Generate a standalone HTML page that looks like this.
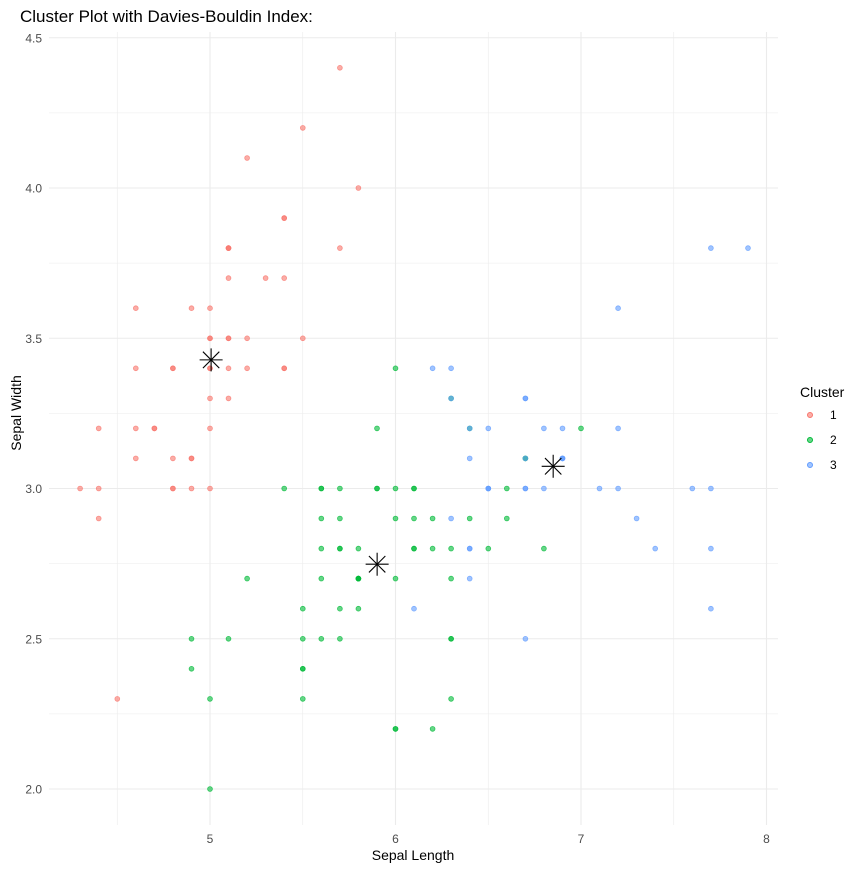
<!DOCTYPE html>
<html><head><meta charset="utf-8"><style>
body{margin:0;background:#fff;}
svg{display:block;font-family:"Liberation Sans",sans-serif;}
</style></head><body>
<svg id="s" width="862" height="870" xmlns="http://www.w3.org/2000/svg">
<rect width="862" height="870" fill="#fff"/>
<g id="grid"></g><g id="pts"></g><g id="stars"></g>
<text x="20" y="22" font-size="17" fill="#000">Cluster Plot with Davies-Bouldin Index:</text>
<text x="413" y="860" font-size="14" text-anchor="middle" fill="#000">Sepal Length</text>
<text transform="translate(21,413) rotate(-90)" font-size="14" text-anchor="middle" fill="#000">Sepal Width</text>
<text x="800" y="397" font-size="14" fill="#000">Cluster</text>
<circle cx="810" cy="415" r="2.5" fill="#F8766D" fill-opacity="0.6" stroke="#F8766D"/>
<circle cx="810" cy="440" r="2.5" fill="#00BA38" fill-opacity="0.6" stroke="#00BA38"/>
<circle cx="810" cy="465" r="2.5" fill="#619CFF" fill-opacity="0.6" stroke="#619CFF"/>
<text x="830" y="419" font-size="12" fill="#000">1</text>
<text x="830" y="444" font-size="12" fill="#000">2</text>
<text x="830" y="469" font-size="12" fill="#000">3</text>
</svg>
<script>
var X=function(v){return 210+(v-5)*185.5},Y=function(v){return 789-(v-2)*300.5};
var L=49,R=778,T=32,B=825,g='';
for(var v=4.5;v<=8.01;v+=0.5){var x=X(v);var maj=Math.abs(v-Math.round(v))<.01;g+='<line x1="'+x+'" x2="'+x+'" y1="'+T+'" y2="'+B+'" stroke="#ebebeb" stroke-width="'+(maj?1.1:0.6)+'"/>';if(maj)g+='<text x="'+x+'" y="'+(B+18)+'" font-size="12" fill="#4d4d4d" text-anchor="middle">'+v+'</text>';}
for(var v=2;v<=4.51;v+=0.25){var y=Y(v);var maj=Math.abs(v*2-Math.round(v*2))<.01;g+='<line x1="'+L+'" x2="'+R+'" y1="'+y+'" y2="'+y+'" stroke="#ebebeb" stroke-width="'+(maj?1.1:0.6)+'"/>';if(maj)g+='<text x="'+(L-7)+'" y="'+(y+4.5)+'" font-size="12" fill="#4d4d4d" text-anchor="end">'+v.toFixed(1)+'</text>';}
document.getElementById('grid').innerHTML=g;
var se=[5.1,3.5,4.9,3.0,4.7,3.2,4.6,3.1,5.0,3.6,5.4,3.9,4.6,3.4,5.0,3.4,4.4,2.9,4.9,3.1,5.4,3.7,4.8,3.4,4.8,3.0,4.3,3.0,5.8,4.0,5.7,4.4,5.4,3.9,5.1,3.5,5.7,3.8,5.1,3.8,5.4,3.4,5.1,3.7,4.6,3.6,5.1,3.3,4.8,3.4,5.0,3.0,5.0,3.4,5.2,3.5,5.2,3.4,4.7,3.2,4.8,3.1,5.4,3.4,5.2,4.1,5.5,4.2,4.9,3.1,5.0,3.2,5.5,3.5,4.9,3.6,4.4,3.0,5.1,3.4,5.0,3.5,4.5,2.3,4.4,3.2,5.0,3.5,5.1,3.8,4.8,3.0,5.1,3.8,4.6,3.2,5.3,3.7,5.0,3.3];
var ve=[7.0,3.2,6.4,3.2,6.9,3.1,5.5,2.3,6.5,2.8,5.7,2.8,6.3,3.3,4.9,2.4,6.6,2.9,5.2,2.7,5.0,2.0,5.9,3.0,6.0,2.2,6.1,2.9,5.6,2.9,6.7,3.1,5.6,3.0,5.8,2.7,6.2,2.2,5.6,2.5,5.9,3.2,6.1,2.8,6.3,2.5,6.1,2.8,6.4,2.9,6.6,3.0,6.8,2.8,6.7,3.0,6.0,2.9,5.7,2.6,5.5,2.4,5.5,2.4,5.8,2.7,6.0,2.7,5.4,3.0,6.0,3.4,6.7,3.1,6.3,2.3,5.6,3.0,5.5,2.5,5.5,2.6,6.1,3.0,5.8,2.6,5.0,2.3,5.6,2.7,5.7,3.0,5.7,2.9,6.2,2.9,5.1,2.5,5.7,2.8];
var vi=[6.3,3.3,5.8,2.7,7.1,3.0,6.3,2.9,6.5,3.0,7.6,3.0,4.9,2.5,7.3,2.9,6.7,2.5,7.2,3.6,6.5,3.2,6.4,2.7,6.8,3.0,5.7,2.5,5.8,2.8,6.4,3.2,6.5,3.0,7.7,3.8,7.7,2.6,6.0,2.2,6.9,3.2,5.6,2.8,7.7,2.8,6.3,2.7,6.7,3.3,7.2,3.2,6.2,2.8,6.1,3.0,6.4,2.8,7.2,3.0,7.4,2.8,7.9,3.8,6.4,2.8,6.3,2.8,6.1,2.6,7.7,3.0,6.3,3.4,6.4,3.1,6.0,3.0,6.9,3.1,6.7,3.1,6.9,3.1,5.8,2.7,6.8,3.2,6.7,3.3,6.7,3.0,6.3,2.5,6.5,3.0,6.2,3.4,5.9,3.0];
var vic2=[102,107,114,115,120,122,124,127,128,134,139,143,147,150];
var cols=['#F8766D','#00BA38','#619CFF'],p='';
function pt(a,b,c){p+='<circle cx="'+X(a).toFixed(1)+'" cy="'+Y(b).toFixed(1)+'" r="2.4" fill="'+cols[c]+'" fill-opacity="0.6" stroke="'+cols[c]+'" stroke-opacity="0.75" stroke-width="0.8"/>';}
for(var i=0;i<50;i++){pt(se[2*i],se[2*i+1],0);}
for(var i=0;i<50;i++){var r=51+i;pt(ve[2*i],ve[2*i+1],(r==53||r==78)?2:1);}
for(var i=0;i<50;i++){var r=101+i;pt(vi[2*i],vi[2*i+1],vic2.indexOf(r)>=0?1:2);}
document.getElementById('pts').innerHTML=p;
var c=[[5.006,3.428],[5.901,2.748],[6.85,3.074]],s='';
c.forEach(function(q){var x=X(q[0]),y=Y(q[1]),r=11.5,d=8.2;
s+='<g stroke="#000" stroke-width="1.1"><line x1="'+(x-r)+'" y1="'+y+'" x2="'+(x+r)+'" y2="'+y+'"/><line x1="'+x+'" y1="'+(y-r)+'" x2="'+x+'" y2="'+(y+r)+'"/><line x1="'+(x-d)+'" y1="'+(y-d)+'" x2="'+(x+d)+'" y2="'+(y+d)+'"/><line x1="'+(x-d)+'" y1="'+(y+d)+'" x2="'+(x+d)+'" y2="'+(y-d)+'"/></g>';});
document.getElementById('stars').innerHTML=s;
</script>
</body></html>
